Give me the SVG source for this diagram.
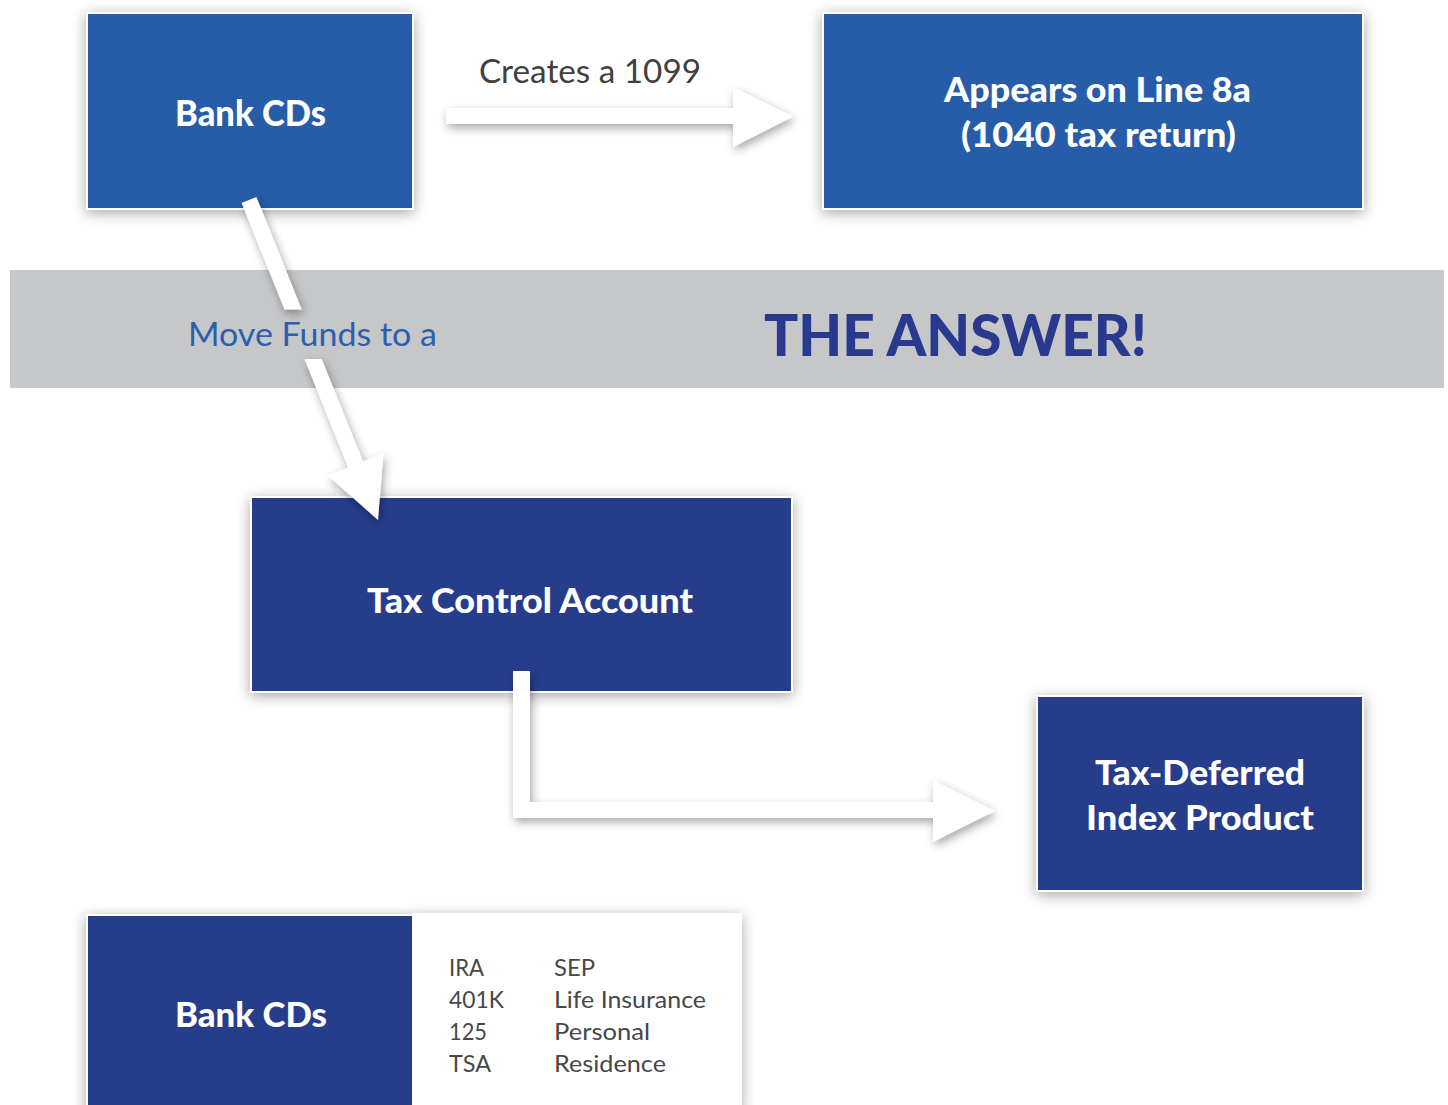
<svg xmlns="http://www.w3.org/2000/svg" width="1448" height="1105" viewBox="0 0 1448 1105">
<defs>
<style>
.lt{fill:#265ca8;stroke:#ffffff;stroke-width:2}
.dk{fill:#253e8c;stroke:#ffffff;stroke-width:2}
.wt{font-family:Lato,"Open Sans","Liberation Sans",sans-serif;font-weight:900;fill:#ffffff}
.lbl{font-family:Lato,"Open Sans","Liberation Sans",sans-serif;font-weight:normal}
.arr{fill:#ffffff}
.li{font-family:Lato,"Open Sans","Liberation Sans",sans-serif;font-size:23.5px;fill:#474747}
</style>
<filter id="bs" x="-20%" y="-30%" width="140%" height="160%">
<feDropShadow dx="0" dy="3" stdDeviation="7" flood-color="#000000" flood-opacity="0.35"/>
</filter>
<filter id="as" x="-20%" y="-30%" width="140%" height="160%">
<feDropShadow dx="2" dy="4" stdDeviation="5" flood-color="#000000" flood-opacity="0.35"/>
</filter>
<mask id="gap" maskUnits="userSpaceOnUse" x="0" y="0" width="1448" height="1105">
<rect x="0" y="0" width="1448" height="1105" fill="#ffffff"/>
<rect x="260" y="309.5" width="90" height="49.5" fill="#000000"/>
</mask>
</defs>
<rect x="0" y="0" width="1448" height="1105" fill="#ffffff"/>
<g id="band">
<rect x="10" y="270" width="1434" height="118" fill="#c6c7c9"/>
<text x="764" y="356" class="wt" style="fill:#28398e" font-size="57" textLength="383" lengthAdjust="spacingAndGlyphs">THE ANSWER!</text>
</g>
<g id="node-bankcds-top">
<rect x="87" y="13" width="326" height="196" class="lt" filter="url(#bs)"/>
<text x="175" y="126" class="wt" font-size="36" textLength="151" lengthAdjust="spacingAndGlyphs">Bank CDs</text>
</g>
<g id="node-line8a">
<rect x="823" y="13" width="540" height="196" class="lt" filter="url(#bs)"/>
<text x="944" y="102" class="wt" font-size="35" textLength="307" lengthAdjust="spacingAndGlyphs">Appears on Line 8a</text>
<text x="961" y="147" class="wt" font-size="35" textLength="275" lengthAdjust="spacingAndGlyphs">(1040 tax return)</text>
</g>
<g id="node-tca">
<rect x="251" y="497" width="541" height="195" class="dk" filter="url(#bs)"/>
<text x="367" y="613" class="wt" font-size="35" textLength="326" lengthAdjust="spacingAndGlyphs">Tax Control Account</text>
</g>
<g id="node-tdip">
<rect x="1037" y="696" width="326" height="195" class="dk" filter="url(#bs)"/>
<text x="1095" y="785" class="wt" font-size="34" textLength="210" lengthAdjust="spacingAndGlyphs">Tax-Deferred</text>
<text x="1086" y="830" class="wt" font-size="34" textLength="228" lengthAdjust="spacingAndGlyphs">Index Product</text>
</g>
<g id="node-bankcds-bottom">
<g filter="url(#bs)">
<rect x="413" y="913" width="329" height="200" fill="#ffffff"/>
<rect x="87" y="915" width="326" height="200" class="dk"/>
</g>
<text x="175" y="1027" class="wt" font-size="35" textLength="152" lengthAdjust="spacingAndGlyphs">Bank CDs</text>
<text x="449" y="976" class="li" textLength="35" lengthAdjust="spacingAndGlyphs">IRA</text>
<text x="449" y="1008" class="li" textLength="55" lengthAdjust="spacingAndGlyphs">401K</text>
<text x="449" y="1040" class="li" textLength="38" lengthAdjust="spacingAndGlyphs">125</text>
<text x="449" y="1072" class="li" textLength="42" lengthAdjust="spacingAndGlyphs">TSA</text>
<text x="554" y="976" class="li" textLength="41" lengthAdjust="spacingAndGlyphs">SEP</text>
<text x="554" y="1008" class="li" textLength="152" lengthAdjust="spacingAndGlyphs">Life Insurance</text>
<text x="554" y="1040" class="li" textLength="96" lengthAdjust="spacingAndGlyphs">Personal</text>
<text x="554" y="1072" class="li" textLength="112" lengthAdjust="spacingAndGlyphs">Residence</text>
</g>
<g id="connectors">
<g filter="url(#as)">
<polygon class="arr" points="446,108 733,108 733,87 793,116.5 733,147 733,124 446,124"/>
</g>
<text x="479" y="83" class="lbl" font-size="33" fill="#404040" textLength="222" lengthAdjust="spacingAndGlyphs">Creates a 1099</text>
<g filter="url(#as)">
<polygon class="arr" mask="url(#gap)" points="241.6,203 256.4,197 363,461.4 383.4,453.2 378,520 327.8,475.6 348.2,467.4"/>
</g>
<text x="188" y="346" class="lbl" font-size="33" fill="#2b5fad" textLength="249" lengthAdjust="spacingAndGlyphs">Move Funds to a</text>
<g filter="url(#as)">
<polygon class="arr" points="513,671 530,671 530,802 933,802 933,780 995,811 933,842 933,818 513,818"/>
</g>
</g>
</svg>
